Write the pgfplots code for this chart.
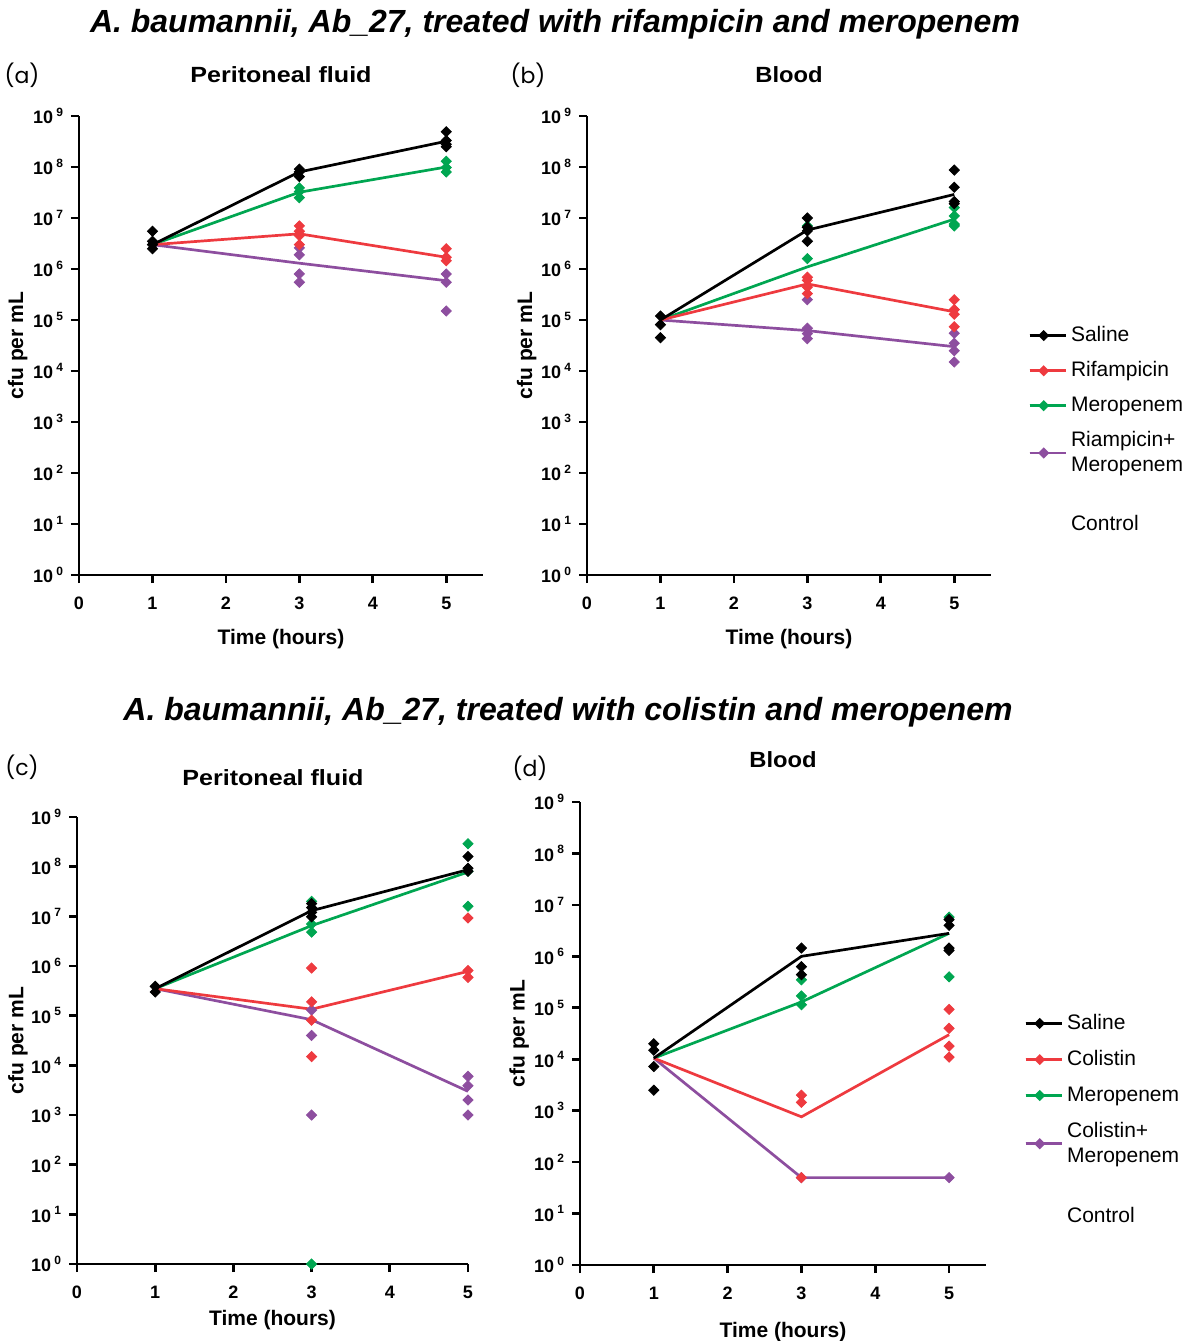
\documentclass[border=0pt]{standalone}
\usepackage{fontspec}
\setmainfont{Liberation Sans}
\newfontfamily\labfont{Poppins}
\usepackage{pgfplots}
\pgfplotsset{compat=1.18}
\definecolor{cSal}{HTML}{000000}
\definecolor{cRed}{HTML}{EE3A3F}
\definecolor{cGrn}{HTML}{00A651}
\definecolor{cPur}{HTML}{8D4E9F}

\newcommand{\tenp}[1]{10\,\textsuperscript{#1}}

\pgfplotsset{
  cfupanel/.style={
    scale only axis, ymin=1, ymax=1e9, xmin=0,
    axis line style={-, line width=1.35pt},
    tick style={line width=1.35pt, black}, tick align=outside, major tick length=4pt,
    xtick={0,1,2,3,4,5}, xticklabels={0,1,2,3,4,5},
    ytick={1,10,100,1000,1e4,1e5,1e6,1e7,1e8,1e9},
    yticklabels={\tenp{0},\tenp{1},\tenp{2},\tenp{3},\tenp{4},\tenp{5},\tenp{6},\tenp{7},\tenp{8},\tenp{9}},
    yminorticks=false,
    tick label style={font=\bfseries\fontsize{9}{10}\selectfont},
    xticklabel style={yshift=-3.5pt},
    label style={font=\bfseries\fontsize{10.5}{12}\selectfont},
    xlabel={Time (hours)}, ylabel={cfu per mL},
    clip=false, anchor=south west,
  },
  cfulegend/.style={
    legend style={draw=none, fill=none, anchor=north west, inner sep=0pt,
      font=\fontsize{10.5}{12.5}\selectfont, cells={align=left}},
    legend cell align=left,
  },
  cfumarks/.style={only marks, mark=square*, mark size=1.8pt, mark options={rotate=45}, forget plot},
  cfuline/.style={line width=1.35pt, mark=none, forget plot},
  cfukey/.style={line width=1.35pt, mark=square*, mark size=1.3pt, mark options={rotate=45}},
}

\begin{document}
\begin{tikzpicture}
\useasboundingbox (0,0) rectangle (594.5pt,-670.5pt);

% titles
\node[font=\bfseries\itshape\fontsize{16}{18}\selectfont] at ({555*0.5pt},{-24*0.5pt}) {A. baumannii, Ab\_27, treated with rifampicin and meropenem};
\node[font=\bfseries\itshape\fontsize{16}{18}\selectfont] at ({568*0.5pt},{-712*0.5pt}) {A. baumannii, Ab\_27, treated with colistin and meropenem};
\node[font=\labfont\fontsize{11}{13}\selectfont] at ({22*0.5pt},{-75*0.5pt}) {(a)};
\node[font=\labfont\fontsize{11}{13}\selectfont] at ({528*0.5pt},{-75*0.5pt}) {(b)};
\node[font=\labfont\fontsize{11}{13}\selectfont] at ({22*0.5pt},{-767*0.5pt}) {(c)};
\node[font=\labfont\fontsize{11}{13}\selectfont] at ({530*0.5pt},{-768*0.5pt}) {(d)};
\node[font=\bfseries\fontsize{11}{13}\selectfont] at ({281*0.5pt},{-75*0.5pt}) {\scalebox{1.14}[1]{Peritoneal fluid}};
\node[font=\bfseries\fontsize{11}{13}\selectfont] at ({789*0.5pt},{-75*0.5pt}) {\scalebox{1.08}[1]{Blood}};
\node[font=\bfseries\fontsize{11}{13}\selectfont] at ({273*0.5pt},{-778*0.5pt}) {\scalebox{1.14}[1]{Peritoneal fluid}};
\node[font=\bfseries\fontsize{11}{13}\selectfont] at ({783*0.5pt},{-760*0.5pt}) {\scalebox{1.08}[1]{Blood}};

% (a) peritoneal fluid, rifampicin
\begin{axis}[ymode=log, axis lines=left, cfupanel, width=202pt, height=229.5pt, xmax=5.5,
  at={({79*0.5pt},{-575*0.5pt})},
  xlabel style={at={(axis description cs:0.5,-0.140)}, anchor=center},
  ylabel style={at={(axis description cs:-0.152,0.5)}, anchor=center}]
\addplot[cfuline, cPur] coordinates {(1,3e6)(3,1.3e6)(5,5.9e5)};
\addplot[cfumarks, cPur] coordinates {(3,2.6e6)(3,1.9e6)(3,8e5)(3,5.5e5)(5,8e5)(5,5.5e5)(5,1.5e5)};
\addplot[cfuline, cGrn] coordinates {(1,3e6)(3,3.2e7)(5,1e8)};
\addplot[cfumarks, cGrn] coordinates {(3,3.9e7)(3,3.3e7)(3,2.5e7)(5,1.3e8)(5,9.8e7)(5,8e7)};
\addplot[cfuline, cRed] coordinates {(1,3e6)(3,4.9e6)(5,1.7e6)};
\addplot[cfumarks, cRed] coordinates {(3,7e6)(3,5.5e6)(3,4.5e6)(3,3e6)(5,2.5e6)(5,1.7e6)(5,1.45e6)};
\addplot[cfuline, cSal] coordinates {(1,3e6)(3,8e7)(5,3.2e8)};
\addplot[cfumarks, cSal] coordinates {(1,5.5e6)(1,3.5e6)(1,3e6)(1,2.5e6)(3,9.1e7)(3,8e7)(3,6.5e7)(5,4.9e8)(5,3.3e8)(5,2.8e8)(5,2.5e8)};
\end{axis}

% (b) blood, rifampicin
\begin{axis}[ymode=log, axis lines=left, cfupanel, cfulegend, width=202pt, height=229.5pt, xmax=5.5,
  at={({587*0.5pt},{-575*0.5pt})},
  xlabel style={at={(axis description cs:0.5,-0.140)}, anchor=center},
  ylabel style={at={(axis description cs:-0.149,0.5)}, anchor=center},
  legend image code/.code={\draw[mark repeat=2,mark phase=2,#1] plot coordinates {(0pt,0pt) (7pt,0pt) (14pt,0pt)}; \path (0pt,0pt) -- (18pt,0pt);},
  legend style={at={(1.0915,0.551)}, row sep=4.5pt}]
\addplot[cfuline, cPur] coordinates {(1,1e5)(3,6.2e4)(5,3e4)};
\addplot[cfumarks, cPur] coordinates {(3,2.5e5)(3,6.9e4)(3,5.4e4)(3,4.3e4)(5,5.5e4)(5,3.5e4)(5,2.5e4)(5,1.5e4)};
\addplot[cfuline, cGrn] coordinates {(1,1e5)(3,1.1e6)(5,9.5e6)};
\addplot[cfumarks, cGrn] coordinates {(3,7e6)(3,1.6e6)(5,1.6e7)(5,1.1e7)(5,7.6e6)(5,7e6)};
\addplot[cfuline, cRed] coordinates {(1,1e5)(3,5.1e5)(5,1.45e5)};
\addplot[cfumarks, cRed] coordinates {(3,6.9e5)(3,6e5)(3,4.4e5)(3,3.3e5)(5,2.5e5)(5,1.6e5)(5,1.3e5)(5,7.4e4)};
\addplot[cfuline, cSal] coordinates {(1,1e5)(3,5.8e6)(5,2.9e7)};
\addplot[cfumarks, cSal] coordinates {(1,1.2e5)(1,8.1e4)(1,4.5e4)(3,1e7)(3,6.6e6)(3,5.6e6)(3,3.5e6)(5,8.7e7)(5,4e7)(5,2.1e7)(5,1.9e7)};
\addlegendimage{cfukey, cSal}
\addlegendimage{cfukey, cRed}
\addlegendimage{cfukey, cGrn}
\addlegendimage{cfukey, cPur}
\addlegendimage{empty legend}
\legend{Saline, Rifampicin, Meropenem, {Riampicin+\\Meropenem}, {\rule{0pt}{19.5pt}Control}}
\end{axis}

% (c) peritoneal fluid, colistin
\begin{axis}[ymode=log, axis lines=left, cfupanel, width=195.5pt, height=223.5pt, xmax=5,
  at={({77*0.5pt},{-1264*0.5pt})},
  xlabel style={at={(axis description cs:0.5,-0.125)}, anchor=center},
  ylabel style={at={(axis description cs:-0.151,0.5)}, anchor=center}]
\addplot[cfuline, cPur] coordinates {(1,3.5e5)(3,8.3e4)(5,3e3)};
\addplot[cfumarks, cPur] coordinates {(3,1.3e5)(3,4e4)(3,1e3)(5,6e3)(5,3.9e3)(5,2e3)(5,1e3)};
\addplot[cfuline, cGrn] coordinates {(1,3.5e5)(3,6.5e6)(5,7.8e7)};
\addplot[cfumarks, cGrn] coordinates {(3,2e7)(3,7e6)(3,4.8e6)(3,1)(5,2.9e8)(5,8.1e7)(5,1.6e7)};
\addplot[cfuline, cRed] coordinates {(1,3.5e5)(3,1.35e5)(5,7.8e5)};
\addplot[cfumarks, cRed] coordinates {(3,9.1e5)(3,1.9e5)(3,8.1e4)(3,1.5e4)(5,9.3e6)(5,8.1e5)(5,5.9e5)};
\addplot[cfuline, cSal] coordinates {(1,3.5e5)(3,1.3e7)(5,8.7e7)};
\addplot[cfumarks, cSal] coordinates {(1,3.9e5)(1,3e5)(3,1.8e7)(3,1.5e7)(3,1.2e7)(3,9.8e6)(5,1.6e8)(5,9.3e7)(5,8.1e7)};
\end{axis}

% (d) blood, colistin
\begin{axis}[ymode=log, axis lines=left, cfupanel, cfulegend, width=203pt, height=231.5pt, xmax=5.5,
  at={({580*0.5pt},{-1265*0.5pt})},
  xlabel style={at={(axis description cs:0.5,-0.145)}, anchor=center},
  ylabel style={at={(axis description cs:-0.150,0.5)}, anchor=center},
  legend image code/.code={\draw[mark repeat=2,mark phase=2,#1] plot coordinates {(0pt,0pt) (7pt,0pt) (14pt,0pt)}; \path (0pt,0pt) -- (18pt,0pt);},
  legend style={at={(1.0936,0.551)}, row sep=5pt}]
\addplot[cfuline, cPur] coordinates {(1,1.05e4)(3,50)(5,50)};
\addplot[cfumarks, cPur] coordinates {(3,50)(5,50)};
\addplot[cfuline, cGrn] coordinates {(1,1.05e4)(3,1.3e5)(5,2.8e6)};
\addplot[cfumarks, cGrn] coordinates {(3,3.5e5)(3,1.7e5)(3,1.15e5)(5,5.8e6)(5,4e5)};
\addplot[cfuline, cRed] coordinates {(1,1.05e4)(3,7.6e2)(5,3e4)};
\addplot[cfumarks, cRed] coordinates {(3,2e3)(3,1.45e3)(3,50)(5,9.3e4)(5,4e4)(5,1.8e4)(5,1.1e4)};
\addplot[cfuline, cSal] coordinates {(1,1.05e4)(3,1e6)(5,2.8e6)};
\addplot[cfumarks, cSal] coordinates {(1,2e4)(1,1.5e4)(1,7.2e3)(1,2.5e3)(3,1.45e6)(3,6.3e5)(3,4.4e5)(5,5.2e6)(5,4e6)(5,1.45e6)(5,1.3e6)};
\addlegendimage{cfukey, cSal}
\addlegendimage{cfukey, cRed}
\addlegendimage{cfukey, cGrn}
\addlegendimage{cfukey, cPur}
\addlegendimage{empty legend}
\legend{Saline, Colistin, Meropenem, {Colistin+\\Meropenem}, {\rule{0pt}{19.5pt}Control}}
\end{axis}
\end{tikzpicture}
\end{document}
